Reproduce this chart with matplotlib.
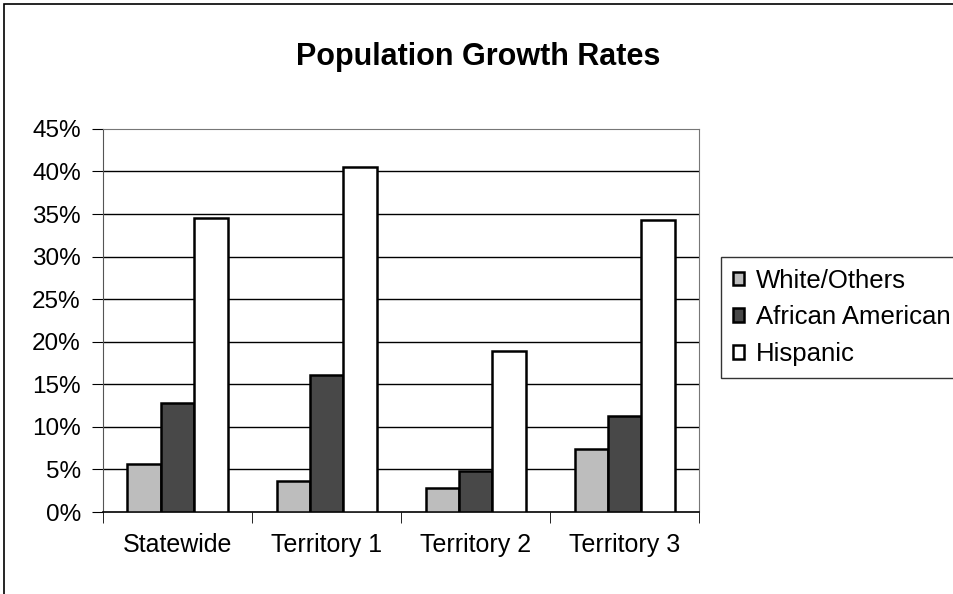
import matplotlib.pyplot as plt
import numpy as np
from matplotlib.patches import Rectangle

plt.rcParams['font.family'] = ['Liberation Sans', 'DejaVu Sans']

# data
categories = ["Statewide", "Territory 1", "Territory 2", "Territory 3"]
series = ["White/Others", "African American", "Hispanic"]
white_others = [5.6, 3.7, 2.8, 7.4]
african_american = [12.8, 16.1, 4.8, 11.3]
hispanic = [34.5, 40.5, 18.9, 34.3]
yticks = [0, 5, 10, 15, 20, 25, 30, 35, 40, 45]

fig = plt.figure(figsize=(9.54, 5.94), dpi=100)
ax = fig.add_axes([0.108, 0.138, 0.625, 0.645])

x = np.arange(len(categories))
w = 0.224
colors = ["#bdbdbd", "#484848", "white"]
for i, (vals, c) in enumerate(zip([white_others, african_american, hispanic], colors)):
    ax.bar(x + (i - 1) * w, vals, w, color=c, edgecolor="black", lw=1.8,
           label=series[i], zorder=3)

ax.set_xlim(-0.5, len(categories) - 0.5)
ax.set_ylim(0, 45)
ax.set_yticks(yticks)
ax.set_yticklabels([f"{v}%" for v in yticks], fontsize=17.5)
ax.set_xticks(x)
ax.set_xticklabels(categories, fontsize=18)
ax.tick_params(axis='x', length=0, pad=15)
ax.tick_params(axis='y', length=8, pad=8)
ax.set_xticks(np.arange(-0.5, len(categories)), minor=True)
ax.tick_params(axis='x', which='minor', length=8)

for v in yticks[1:-1]:
    ax.axhline(v, color="black", lw=1, zorder=1)

for s in ['top', 'right']:
    ax.spines[s].set_color("#777777")
    ax.spines[s].set_linestyle((0, (1, 1)))
ax.spines['left'].set_color("#555555")
ax.spines['bottom'].set_color("black")
ax.spines['bottom'].set_linewidth(1.2)

fig.text(478 / 954, 1 - 57 / 594, "Population Growth Rates", ha="center", va="center",
         fontsize=22, fontweight="bold")

leg = fig.legend(loc="upper left", bbox_to_anchor=(721 / 954, 1 - 257 / 594),
                 fontsize=18.5, frameon=True, fancybox=False, edgecolor="black",
                 handlelength=0.45, handleheight=0.45, handletextpad=0.45,
                 labelspacing=0.5, borderpad=0.45, borderaxespad=0)
leg.get_frame().set_linewidth(1)

fig.patches.append(Rectangle((4 / 954, -0.1), 1.1, 1 - 4 / 594 + 0.1,
                             transform=fig.transFigure, fill=False,
                             edgecolor="black", lw=1.2))

plt.savefig("out.png", dpi=100)
